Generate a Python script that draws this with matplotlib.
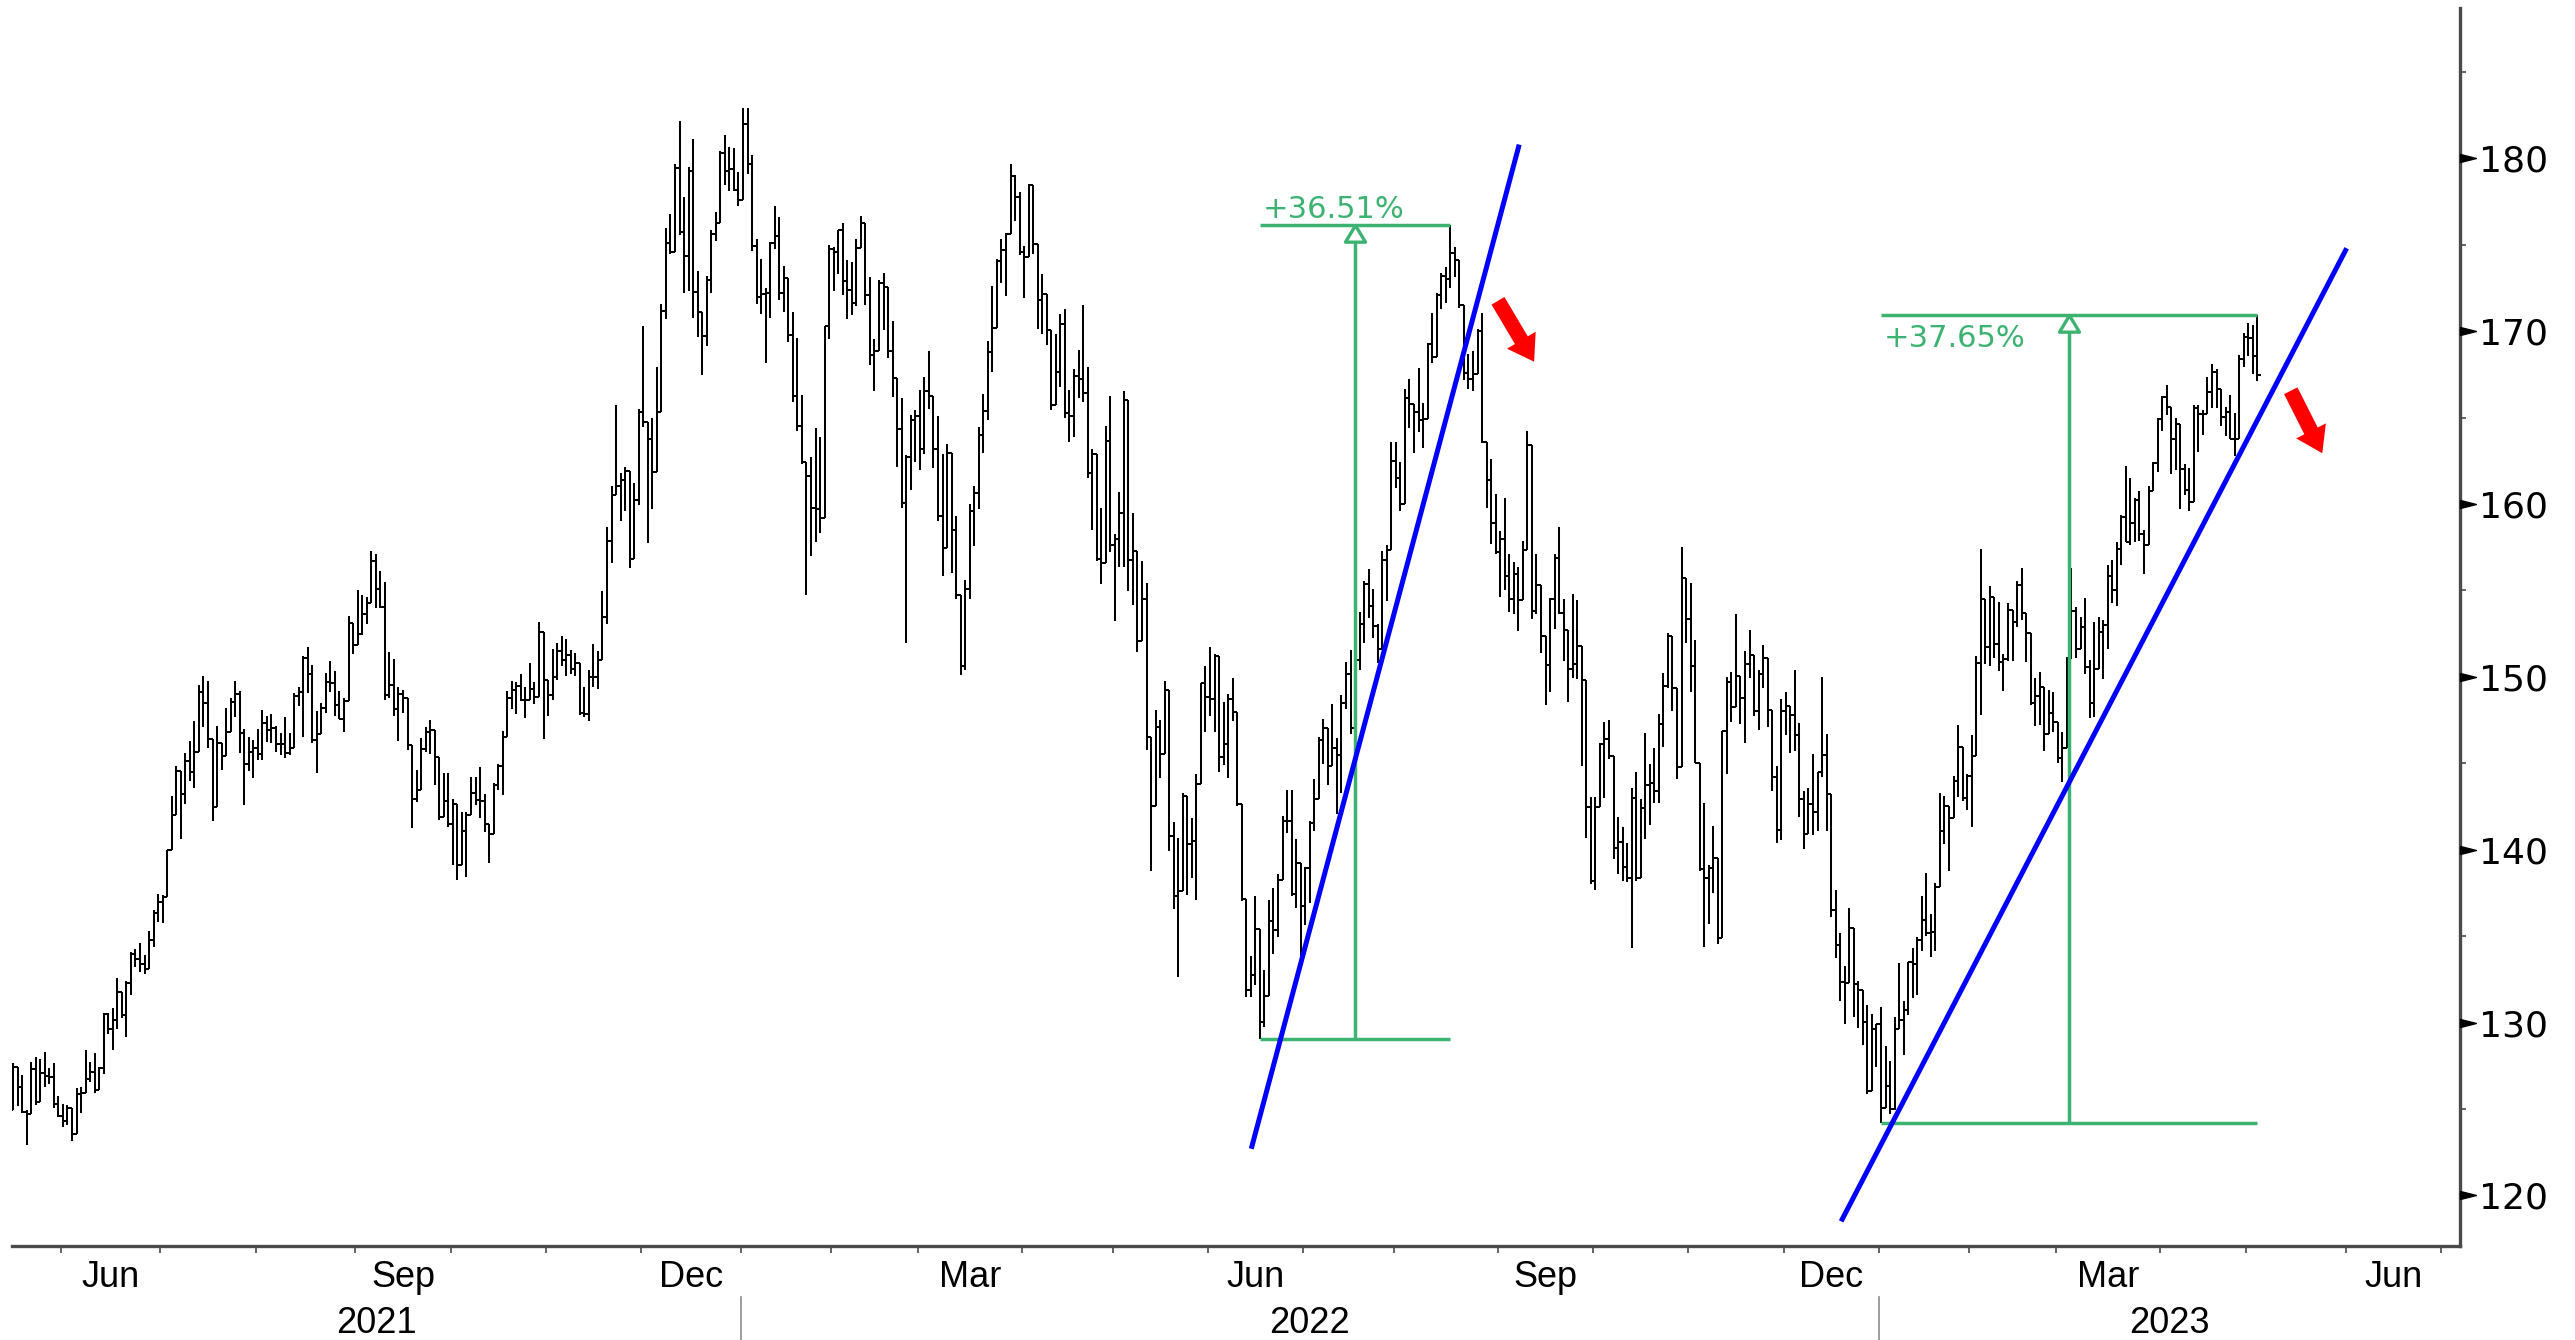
import numpy as np
import pandas as pd
import matplotlib
matplotlib.use("Agg")
import matplotlib.pyplot as plt
from matplotlib.collections import LineCollection
from matplotlib.patches import FancyArrowPatch
from matplotlib.path import Path

# daily bars, first bar 2021-05-14, last bar 2023-05-03 (one line per month)
first_open = 124.97
close = [
    127.45, 126.27, 124.85, 124.69, 127.31, 125.43, 127.10, 126.90, 126.85, 125.28, 124.61,
    124.28, 125.06, 123.54, 125.89, 125.90, 126.74, 127.13, 126.11, 127.35, 130.48, 129.64, 130.15, 131.79, 130.46, 132.30, 133.98, 133.70, 133.41, 133.11, 134.78, 136.33, 136.96,
    137.27, 139.96, 142.02, 144.57, 143.24, 145.11, 144.50, 145.64, 149.15, 148.48, 146.39, 142.45, 146.15, 145.40, 146.80, 148.56, 148.99, 146.77, 144.98, 145.64, 145.86,
    145.52, 147.36, 146.95, 147.06, 146.14, 146.09, 145.60, 145.86, 148.89, 149.10, 151.12, 150.19, 146.36, 146.70, 148.19, 149.71, 149.62, 148.36, 147.54, 148.60, 153.12, 151.83,
    152.51, 153.65, 154.30, 156.69, 155.11, 154.07, 148.97, 149.55, 148.12, 149.03, 148.79, 146.06, 142.94, 143.43, 145.85, 146.83, 146.92, 145.37, 141.91, 142.83, 141.50,
    142.65, 139.14, 141.11, 142.00, 143.29, 142.90, 142.81, 141.51, 140.91, 143.76, 144.84, 146.55, 148.76, 149.26, 149.48, 148.69, 148.64, 149.32, 148.85, 152.57, 149.80,
    148.96, 150.02, 151.49, 150.96, 151.28, 150.44, 150.81, 147.92, 147.87, 149.99, 150.00, 151.00, 153.49, 157.87, 160.55, 161.02, 161.41, 161.94, 156.81, 160.24, 165.30,
    164.77, 163.76, 161.84, 165.32, 171.18, 175.08, 174.56, 179.45, 175.74, 174.33, 179.30, 172.26, 171.14, 169.75, 172.99, 175.64, 176.28, 180.33, 179.29, 179.38, 178.20, 177.57,
    182.01, 179.70, 174.92, 172.00, 172.17, 172.19, 175.08, 175.53, 172.19, 173.07, 169.80, 166.23, 164.51, 162.41, 161.62, 159.78, 159.69, 159.22, 170.33, 174.78,
    174.61, 175.84, 172.90, 172.39, 171.66, 174.83, 176.28, 172.12, 168.64, 168.88, 172.79, 172.55, 168.88, 167.30, 164.32, 160.07, 162.74, 164.85, 165.12,
    163.20, 166.56, 166.23, 163.17, 159.30, 157.44, 162.95, 158.52, 154.73, 150.62, 155.09, 159.59, 160.62, 163.98, 165.38, 168.82, 170.21, 174.07, 174.72, 175.60, 178.96, 177.77, 174.61,
    174.31, 178.44, 175.06, 171.83, 172.14, 170.09, 165.75, 167.66, 170.40, 165.29, 165.07, 167.40, 167.23, 166.42, 161.79, 162.88, 156.80, 156.57, 163.64, 157.65,
    157.96, 159.48, 166.02, 156.77, 157.28, 152.06, 154.51, 146.50, 142.56, 147.11, 145.54, 149.24, 140.82, 137.35, 137.59, 143.11, 140.36, 140.52, 143.78, 149.64, 148.84,
    148.71, 151.21, 145.38, 146.14, 148.71, 147.96, 142.64, 137.13, 131.88, 132.76, 135.43, 130.06, 131.56, 135.87, 135.35, 138.27, 141.66, 141.66, 137.44, 139.23, 136.72,
    138.93, 141.56, 142.92, 146.35, 147.04, 144.87, 145.86, 145.49, 148.47, 150.17, 147.07, 151.00, 153.04, 155.35, 154.09, 152.95, 151.60, 156.79, 157.35, 162.51,
    161.51, 160.01, 166.13, 165.81, 165.35, 164.87, 164.92, 169.24, 168.49, 172.10, 173.19, 173.03, 174.55, 174.15, 171.52, 167.57, 167.23, 167.53, 170.03, 163.62, 161.38, 158.91, 157.22,
    157.96, 155.81, 154.53, 155.96, 154.46, 157.37, 163.43, 153.84, 155.31, 152.37, 150.70, 154.48, 156.90, 153.72, 152.74, 150.43, 150.77, 151.76, 149.84, 142.48, 138.20,
    142.45, 146.10, 146.40, 145.43, 140.09, 140.42, 138.98, 138.34, 142.99, 138.38, 142.41, 143.75, 143.86, 143.39, 147.27, 149.45, 152.34, 149.35, 144.80, 155.74, 153.34,
    150.65, 145.03, 138.88, 138.38, 138.92, 139.50, 134.87, 146.87, 149.70, 148.28, 150.04, 148.79, 150.72, 151.29, 148.01, 150.18, 151.07, 148.11, 144.22, 141.17, 148.03,
    148.31, 147.81, 146.63, 142.91, 140.94, 142.65, 142.16, 144.49, 145.47, 143.21, 136.50, 134.51, 132.37, 132.30, 135.45, 132.23, 131.86, 130.03, 126.04, 129.61, 129.93,
    125.07, 126.36, 125.02, 129.62, 130.15, 130.73, 133.49, 133.41, 134.76, 135.94, 135.21, 135.27, 137.87, 141.11, 142.53, 141.86, 143.96, 145.93, 143.00, 144.29,
    145.43, 150.82, 154.50, 151.73, 154.65, 151.92, 150.87, 151.01, 153.85, 153.20, 155.33, 153.71, 152.55, 148.48, 148.91, 149.40, 146.71, 147.92, 147.41,
    145.31, 145.91, 151.03, 153.83, 151.60, 152.87, 150.59, 148.50, 150.47, 152.59, 152.99, 155.85, 155.00, 157.40, 159.28, 157.83, 158.93, 160.25, 158.28, 157.65, 160.77, 162.36, 164.90,
    166.17, 165.63, 163.76, 164.66, 162.03, 160.80, 160.10, 165.56, 165.21, 165.23, 166.47, 167.63, 166.65, 165.02, 165.33, 163.77, 163.76, 168.41, 169.68,
    169.59, 168.54, 167.45,
]
# how far each bar reaches above max(open, close) and below min(open, close)
up_wick = [
    0.2, 0.0, 0.7, 0.1, 0.4, 0.7, 0.8, 1.2, 0.5, 0.8, 0.5,
    0.7, 0.2, 0.0, 0.3, 0.4, 1.7, 0.6, 1.1, 0.1, 0.1, 0.1, 0.7, 0.8, 0.0, 0.1, 0.1, 0.3, 0.9, 0.5, 0.5, 0.2, 0.5,
    0.1, 0.0, 1.1, 0.3, 0.0, 0.5, 1.2, 1.8, 0.4, 0.9, 1.3, 0.0, 1.0, 0.0, 1.4, 0.2, 0.8, 0.2, 0.2, 0.9, 0.5,
    1.1, 0.7, 0.4, 0.8, 0.1, 0.6, 1.6, 0.9, 0.2, 0.3, 0.1, 0.6, 0.5, 1.3, 0.3, 0.5, 1.2, 0.7, 0.8, 0.2, 0.4, 0.0,
    2.5, 1.1, 0.3, 0.6, 0.4, 1.0, 1.4, 1.9, 1.5, 0.4, 0.2, 0.0, 0.0, 1.2, 0.6, 0.3, 0.6, 0.0, 0.0, 1.6, 1.6,
    0.3, 0.0, 1.1, 0.2, 0.9, 0.9, 1.9, 0.4, 0.0, 0.1, 0.1, 0.3, 0.4, 0.5, 0.2, 0.7, 0.7, 1.5, 0.4, 0.6, 0.0,
    0.0, 1.6, 0.5, 0.9, 0.9, 0.3, 0.6, 0.0, 1.5, 0.4, 1.9, 0.5, 1.5, 0.8, 0.5, 4.7, 0.4, 0.2, 0.0, 1.0, 0.2,
    5.0, 0.0, 1.2, 2.6, 0.4, 0.9, 1.7, 0.2, 2.7, 2.0, 0.2, 1.8, 1.2, 0.0, 0.2, 0.2, 0.6, 0.1, 1.0, 1.3, 1.2, 1.0,
    0.9, 0.9, 0.5, 0.4, 2.0, 0.3, 0.1, 1.7, 1.1, 0.7, 0.0, 1.3, 3.4, 1.8, 0.0, 1.1, 4.6, 4.2, 0.0, 0.2,
    0.1, 0.0, 0.4, 1.2, 1.6, 0.5, 0.4, 0.0, 1.0, 0.7, 0.2, 0.6, 0.0, 1.7, 0.0, 1.8, 0.1, 0.3, 0.3,
    1.5, 0.8, 2.3, 0.0, 1.9, 3.6, 0.5, 0.0, 0.8, 0.0, 0.5, 0.4, 0.4, 0.5, 1.0, 0.6, 2.4, 0.1, 0.6, 0.1, 0.7, 0.1, 0.3,
    0.3, 0.1, 0.0, 0.0, 1.2, 0.0, 0.0, 2.2, 0.6, 0.9, 1.3, 0.4, 1.5, 4.3, 1.5, 0.3, 0.0, 3.0, 0.9, 2.6,
    0.3, 1.2, 0.5, 0.0, 2.2, 0.0, 2.2, 0.9, 0.0, 1.0, 0.4, 0.5, 0.0, 0.8, 3.1, 0.2, 0.0, 1.3, 0.6, 0.0, 1.0,
    2.9, 0.1, 0.0, 2.4, 0.3, 1.2, 0.0, 0.0, 0.0, 1.1, 1.9, 0.0, 1.5, 1.2, 1.9, 0.3, 0.3, 1.8, 1.8, 1.4, 0.0,
    0.1, 0.1, 1.2, 0.2, 0.5, 0.0, 2.6, 0.6, 0.5, 0.7, 1.4, 0.2, 0.7, 0.2, 0.9, 1.0, 0.1, 0.5, 0.3, 1.1,
    1.1, 0.9, 0.5, 1.1, 0.0, 2.5, 0.9, 0.1, 1.8, 0.1, 0.2, 0.5, 1.6, 0.3, 0.0, 0.0, 1.1, 1.3, 0.1, 1.0, 0.0, 1.2, 1.7,
    0.5, 2.4, 1.3, 0.7, 0.4, 0.5, 0.8, 0.0, 1.8, 0.0, 0.0, 0.1, 0.2, 1.8, 0.8, 0.0, 4.0, 2.7, 0.0, 0.0, 0.6,
    0.6, 0.1, 1.0, 1.1, 0.0, 1.5, 0.9, 1.4, 0.6, 1.5, 0.5, 3.0, 1.1, 2.0, 0.6, 0.8, 0.2, 0.0, 0.0, 1.8, 0.0,
    2.1, 1.5, 0.0, 3.8, 0.2, 1.9, 0.0, 0.0, 0.3, 0.6, 3.6, 0.0, 0.8, 1.4, 0.0, 0.2, 0.8, 0.0, 0.0, 0.6, 0.7,
    0.8, 0.0, 2.6, 0.7, 0.5, 0.9, 2.9, 0.0, 4.5, 1.2, 0.0, 1.2, 0.7, 0.9, 1.2, 0.0, 0.2, 0.0, 1.0, 0.9, 0.0,
    1.0, 2.3, 1.4, 0.7, 3.3, 0.5, 0.0, 0.8, 0.2, 1.4, 2.7, 1.0, 0.2, 2.2, 0.6, 0.0, 0.3, 1.3, 0.0, 0.1,
    1.2, 0.4, 2.9, 0.0, 0.6, 0.0, 2.4, 0.3, 0.4, 0.0, 0.2, 1.0, 0.0, 0.0, 1.0, 0.9, 0.0, 1.3, 1.2,
    0.0, 0.9, 0.1, 2.5, 0.2, 0.6, 1.7, 0.4, 2.7, 0.9, 0.3, 0.6, 0.9, 0.4, 0.1, 2.9, 2.6, 0.1, 0.5, 0.2, 0.3, 0.1, 0.1,
    0.1, 0.7, 0.0, 0.3, 0.0, 0.3, 1.3, 0.2, 0.2, 0.2, 0.9, 0.5, 0.2, 0.0, 0.3, 1.0, 1.5, 0.2, 0.2,
    0.8, 0.8, 2.38,
]
down_wick = [
    0.0, 1.1, 0.1, 1.8, 0.0, 0.2, 0.0, 0.6, 0.4, 0.2, 0.1,
    0.3, 0.2, 0.4, 0.0, 1.1, 0.0, 0.2, 0.2, 0.0, 0.3, 0.3, 1.2, 0.5, 0.2, 1.3, 0.7, 0.5, 0.5, 0.3, 0.0, 0.4, 0.5,
    1.2, 0.0, 0.0, 0.0, 2.6, 0.6, 0.5, 0.9, 0.0, 1.4, 0.5, 0.8, 0.0, 0.8, 0.0, 0.0, 0.9, 1.2, 2.4, 0.4, 1.5,
    0.3, 0.3, 0.7, 0.8, 0.5, 0.6, 0.3, 0.1, 0.0, 0.6, 2.6, 1.1, 0.2, 1.9, 0.0, 0.3, 0.5, 0.6, 0.0, 0.7, 0.0, 0.5,
    0.0, 0.1, 0.6, 0.0, 1.1, 0.1, 0.3, 0.2, 0.4, 1.8, 0.9, 0.3, 1.7, 0.2, 0.0, 0.2, 1.3, 1.6, 0.2, 0.0, 0.2,
    2.4, 0.9, 0.0, 2.7, 0.0, 0.3, 1.0, 0.5, 1.7, 0.0, 0.3, 1.7, 0.0, 0.6, 1.4, 0.1, 1.0, 0.0, 0.4, 0.0, 3.4,
    1.2, 0.3, 0.2, 0.3, 0.9, 0.3, 0.4, 0.1, 0.2, 0.4, 0.6, 0.7, 0.0, 0.4, 1.3, 0.0, 2.0, 1.8, 0.5, 0.0, 0.3,
    0.3, 6.0, 2.1, 0.0, 0.0, 0.5, 0.1, 0.0, 0.2, 2.1, 2.0, 1.5, 1.5, 2.3, 0.6, 0.8, 0.4, 0.0, 0.8, 1.2, 0.1, 0.3,
    0.0, 0.6, 0.3, 0.4, 1.0, 4.0, 1.4, 0.3, 0.4, 1.1, 0.4, 0.3, 0.3, 0.1, 6.9, 2.8, 1.9, 0.9, 0.0, 0.8,
    2.3, 1.3, 0.8, 1.7, 0.7, 0.2, 0.0, 0.6, 0.6, 2.1, 0.0, 2.5, 0.4, 1.1, 2.2, 0.3, 8.1, 1.9, 2.4,
    1.2, 0.3, 0.7, 1.1, 0.3, 1.6, 0.0, 2.5, 0.2, 0.5, 0.2, 0.6, 2.0, 0.9, 1.0, 0.5, 1.2, 0.0, 1.3, 2.7, 0.0, 1.4, 0.2,
    2.4, 0.0, 0.6, 1.7, 2.0, 0.9, 0.3, 0.0, 0.9, 0.3, 1.5, 1.2, 1.1, 0.5, 0.3, 3.3, 0.1, 1.2, 0.0, 0.4,
    4.4, 1.6, 3.1, 1.8, 2.6, 0.6, 0.0, 0.7, 3.8, 0.0, 1.4, 0.0, 0.9, 0.8, 4.7, 0.0, 3.0, 2.0, 3.4, 0.0, 2.0,
    1.0, 1.9, 0.9, 0.5, 2.0, 0.5, 0.1, 0.1, 0.4, 0.4, 0.6, 1.02, 0.3, 0.0, 1.4, 0.4, 0.0, 0.7, 0.1, 0.8, 3.0,
    1.1, 2.0, 0.5, 0.0, 1.4, 1.1, 0.0, 3.4, 2.2, 0.3, 0.4, 0.2, 0.6, 1.1, 0.7, 0.7, 0.8, 0.0, 2.4, 0.0,
    0.6, 0.4, 0.0, 1.4, 2.4, 0.7, 1.6, 0.0, 0.3, 0.0, 0.8, 1.4, 0.5, 1.0, 0.2, 0.4, 0.6, 0.7, 0.0, 0.1, 1.6, 1.2, 0.1,
    2.6, 0.8, 0.8, 0.9, 1.8, 0.0, 0.0, 0.5, 0.2, 1.0, 2.3, 1.6, 1.7, 0.1, 1.8, 1.9, 0.5, 0.9, 5.0, 1.8, 0.2,
    0.5, 0.0, 3.1, 0.2, 0.6, 1.5, 0.8, 0.2, 4.0, 0.2, 0.0, 1.8, 2.3, 0.7, 0.7, 1.3, 0.1, 1.3, 0.7, 0.0, 1.4,
    1.5, 0.0, 0.1, 4.0, 2.7, 1.4, 0.3, 0.0, 2.5, 0.9, 0.0, 1.5, 2.6, 0.8, 0.3, 1.1, 0.8, 1.0, 0.8, 0.8, 0.6,
    1.4, 2.2, 0.9, 1.0, 0.9, 0.0, 1.3, 1.1, 0.3, 2.1, 0.4, 0.8, 1.1, 2.4, 0.0, 1.9, 2.2, 1.3, 0.2, 0.0, 2.2,
    0.9, 0.0, 0.3, 0.1, 0.0, 2.0, 0.3, 2.0, 1.8, 0.6, 0.2, 1.4, 1.1, 0.0, 0.8, 3.1, 0.0, 0.9, 0.2, 0.7,
    3.0, 0.0, 3.0, 1.0, 1.1, 0.8, 0.5, 1.7, 0.1, 2.3, 0.3, 0.4, 1.7, 0.1, 1.3, 1.7, 1.0, 0.0, 0.6,
    0.3, 1.4, 0.0, 0.0, 0.5, 0.0, 0.4, 0.9, 0.8, 0.0, 2.7, 1.4, 0.7, 0.9, 0.9, 0.0, 0.2, 1.1, 0.4, 1.7, 0.0, 0.0, 0.5,
    0.7, 0.5, 2.0, 1.8, 2.3, 0.3, 0.5, 0.0, 2.2, 1.2, 0.0, 0.9, 1.1, 0.5, 1.1, 0.0, 1.0, 0.0, 0.5,
    1.0, 1.0, 0.3,
]

holidays = ['2021-05-31', '2021-07-05', '2021-09-06', '2021-11-25', '2021-12-24',
            '2022-01-17', '2022-02-21', '2022-04-15', '2022-05-30', '2022-06-20',
            '2022-07-04', '2022-09-05', '2022-11-24', '2022-12-26', '2023-01-02',
            '2023-01-16', '2023-02-20', '2023-04-07', '2023-05-29', '2023-06-19',
            '2023-07-04']

# measured rallies (low day -> high day)
rally_start = ['2022-06-16', '2023-01-03']
rally_end = ['2022-08-17', '2023-05-03']
rally_text = ['+36.51%', '+37.65%']

# hand drawn trend lines (bar number, price) and red arrows
trend_x = [[273.1, 332.2], [403.2, 514.7]]
trend_y = [[122.7, 180.8], [118.5, 174.8]]
arrow_from = [(327.2, 171.9), (502.1, 166.7)]
arrow_to = [(335.8, 168.1), (509.6, 162.8)]

month_names = {3: 'Mar', 6: 'Jun', 9: 'Sep', 12: 'Dec'}

# ------------------------------------------------------------------
days = pd.bdate_range('2021-05-14', '2023-07-31', freq='C', holidays=holidays)
n = min(len(close), len(up_wick), len(down_wick))
x = np.arange(n)
c = np.array(close[:n])
o = np.r_[first_open, c[:-1]]
hi = np.maximum(o, c) + np.array(up_wick[:n])
lo = np.minimum(o, c) - np.array(down_wick[:n])

green = '#3cb371'
axis_col = '#4a4a4a'

fig = plt.figure(figsize=(25.75, 13.4), dpi=100)
ax = fig.add_axes([0.00454, 0.0701, 0.9508, 0.9239])
ax.set_xlim(-0.3, 539.7)
ax.set_ylim(117.07, 188.7)

# OHLC bars
tick = 0.8
segs = []
for i in range(n):
    segs.append([(x[i], lo[i]), (x[i], hi[i])])
    segs.append([(x[i] - tick, o[i]), (x[i], o[i])])
    segs.append([(x[i], c[i]), (x[i] + tick, c[i])])
ax.add_collection(LineCollection(segs, colors='black', linewidths=1.45, capstyle='butt', zorder=2))

# rally measurement
tri_up = Path([(0, 0), (-0.6, -1), (0.6, -1), (0, 0)], [1, 2, 2, 79])
for k in range(2):
    i0 = days.get_loc(pd.Timestamp(rally_start[k]))
    i1 = days.get_loc(pd.Timestamp(rally_end[k]))
    bot, top = lo[i0], hi[i1]
    ax.hlines([bot, top], i0, i1, color=green, lw=2.5, zorder=3)
    xm = (i0 + i1) / 2
    ax.vlines(xm, bot, top, color=green, lw=2.5, zorder=3)
    ax.plot(xm, top, marker=tri_up, ms=24, mfc='white', mec=green, mew=2.4, zorder=4)
    if k == 0:
        ax.text(i0 + 0.6, top + 0.4, rally_text[k], color=green, fontsize=22,
                family='DejaVu Sans', ha='left', va='baseline', zorder=5)
    else:
        ax.text(i0 + 0.6, top - 1.85, rally_text[k], color=green, fontsize=22,
                family='DejaVu Sans', ha='left', va='baseline', zorder=5)

# trend lines
for tx, ty in zip(trend_x, trend_y):
    ax.plot(tx, ty, color='#0000ff', lw=3.6, solid_capstyle='butt', zorder=4)

# red arrows
for a, b in zip(arrow_from, arrow_to):
    ax.add_patch(FancyArrowPatch(a, b, arrowstyle='simple,head_length=1.5,head_width=2.0,tail_width=0.9',
                                 mutation_scale=12, color='red', lw=0, zorder=6))

# spines
for s in ['left', 'top']:
    ax.spines[s].set_visible(False)
for s in ['right', 'bottom']:
    ax.spines[s].set_color(axis_col)
    ax.spines[s].set_linewidth(2.4)

# right price axis
ax.yaxis.tick_right()
ax.set_yticks(range(120, 181, 10))
ax.set_yticks(range(125, 190, 10), minor=True)
ax.tick_params(axis='y', which='major', length=0, pad=14, labelsize=26)
ax.tick_params(axis='y', which='minor', length=4.5, width=1.2, color=axis_col)
for lab in ax.get_yticklabels():
    lab.set_family('DejaVu Sans')
tri_right = Path([(0, -0.25), (0, 0.25), (1, 0), (0, -0.25)], [1, 2, 2, 79])
yt = np.arange(120, 181, 10)
ax.plot(np.ones(len(yt)), yt, ls='none', marker=tri_right, ms=23, color='black',
        transform=ax.get_yaxis_transform(), clip_on=False, zorder=6)

# time axis: month ticks, month labels, years
per = days.to_period('M')
starts = [0] + [i for i in range(1, len(days)) if per[i] != per[i - 1]]
bounds = [s - 0.5 for s in starts[1:] if s - 0.5 < 539.7]
ax.set_xticks(bounds)
ax.set_xticklabels([])
ax.tick_params(axis='x', which='major', length=5, width=1.2, color=axis_col, direction='out')

xt = ax.get_xaxis_transform()
for k, s in enumerate(starts[:-1]):
    m = per[s].month
    if m in month_names:
        mid = (s + starts[k + 1] - 1) / 2
        ax.text(mid, -0.0331, month_names[m], transform=xt, ha='center', va='baseline',
                fontsize=26, family=['Liberation Sans', 'DejaVu Sans'])

year_bounds = [s - 0.5 for s in starts if per[s].month == 1 and s > 0]
edges = [-0.3] + year_bounds + [539.7]
years = [per[0].year + j for j in range(len(edges) - 1)]
for j, yr in enumerate(years):
    ax.text((edges[j] + edges[j + 1]) / 2, -0.0703, str(yr), transform=xt, ha='center',
            va='baseline', fontsize=26, family=['Liberation Sans', 'DejaVu Sans'])
for b in year_bounds:
    ax.plot([b, b], [-0.0412, -0.08], transform=xt, color='#8c8c8c', lw=1.2, clip_on=False)

fig.savefig('out.png', dpi=100, facecolor='white')
